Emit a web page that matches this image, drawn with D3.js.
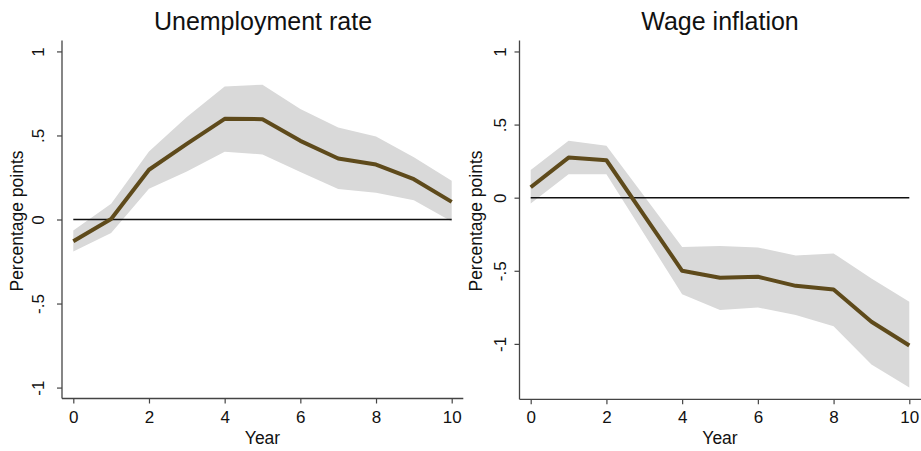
<!DOCTYPE html>
<html>
<head>
<meta charset="utf-8">
<script src="https://cdn.jsdelivr.net/npm/d3@7"></script>
<style>
  html, body { margin: 0; padding: 0; background: #fff; }
  svg { display: block; font-family: Arial, "Liberation Sans", sans-serif; }
</style>
</head>
<body>
<svg id="chart" width="921" height="451"></svg>
<script>
// Horizon in years after the shock
const years = [0, 1, 2, 3, 4, 5, 6, 7, 8, 9, 10];

// Unemployment rate response (percentage points) with confidence band
const unempEstimate = [-0.129, 0.003, 0.296, 0.45, 0.599, 0.597, 0.468, 0.363, 0.327, 0.24, 0.105];
const unempUpper    = [-0.065, 0.093, 0.405, 0.61, 0.792, 0.802, 0.657, 0.548, 0.494, 0.371, 0.23];
const unempLower    = [-0.19, -0.081, 0.183, 0.286, 0.403, 0.387, 0.282, 0.181, 0.159, 0.115, -0.012];

// Wage inflation response (percentage points) with confidence band
const wageEstimate = [0.071, 0.274, 0.256, -0.122, -0.5, -0.548, -0.541, -0.603, -0.628, -0.849, -1.011];
const wageUpper    = [0.19, 0.39, 0.356, 0.01, -0.338, -0.331, -0.34, -0.395, -0.381, -0.552, -0.712];
const wageLower    = [-0.039, 0.16, 0.16, -0.25, -0.66, -0.769, -0.751, -0.803, -0.879, -1.141, -1.299];

// Axis ticks
const xTicks = [0, 2, 4, 6, 8, 10];
const yTicks = [-1, -0.5, 0, 0.5, 1];
const yTickLabels = ["-1", "-.5", "0", ".5", "1"];

const titles = ["Unemployment rate", "Wage inflation"];

const svg = d3.select("#chart");

const panels = [
  {
    title: titles[0], est: unempEstimate, up: unempUpper, lo: unempLower,
    axisX: 62, axisRight: 463.3, top: 40.5, bottom: 398.5,
    x0: 73.3, x1: 451.7, yDomain: [-1.065, 1.065],
    titleX: 263, yLabelX: 18.5, tickLabelX: 40
  },
  {
    title: titles[1], est: wageEstimate, up: wageUpper, lo: wageLower,
    axisX: 519.5, axisRight: 921, top: 40.5, bottom: 399.3,
    x0: 530.7, x1: 909.3, yDomain: [-1.379, 1.075],
    titleX: 720, yLabelX: 477, tickLabelX: 501.5
  }
];

const lineColor = "#5e4a1b";
const bandColor = "#d9d9d9";
const axisColor = "#444";
const tickFont = 17;
const labelFont = 17.5;
const titleFont = 25;

panels.forEach(p => {
  const x = d3.scaleLinear().domain([0, 10]).range([p.x0, p.x1]);
  const y = d3.scaleLinear().domain(p.yDomain).range([p.bottom, p.top]);

  const g = svg.append("g");

  // Confidence band
  const area = d3.area()
    .x((d, i) => x(years[i]))
    .y0((d, i) => y(p.lo[i]))
    .y1((d, i) => y(p.up[i]));
  g.append("path")
    .datum(years)
    .attr("d", area)
    .attr("fill", bandColor);

  // Zero reference line
  g.append("line")
    .attr("x1", x(0)).attr("x2", x(10))
    .attr("y1", y(0)).attr("y2", y(0))
    .attr("stroke", "#111")
    .attr("stroke-width", 1.6);

  // Point estimate
  const line = d3.line()
    .x((d, i) => x(years[i]))
    .y(d => y(d));
  g.append("path")
    .datum(p.est)
    .attr("d", line)
    .attr("fill", "none")
    .attr("stroke", lineColor)
    .attr("stroke-width", 4)
    .attr("stroke-linejoin", "round");

  // Y axis
  const yAxis = d3.axisLeft(y)
    .tickValues(yTicks)
    .tickSize(5)
    .tickPadding(0)
    .tickFormat((d, i) => yTickLabels[i]);
  const ya = g.append("g")
    .attr("transform", `translate(${p.axisX},0)`)
    .call(yAxis);
  ya.select(".domain").remove();
  ya.selectAll(".tick line").attr("stroke", axisColor).attr("stroke-width", 1.2);
  ya.selectAll(".tick text")
    .attr("x", 0).attr("dy", null)
    .attr("text-anchor", "middle")
    .attr("dominant-baseline", "middle")
    .attr("transform", `translate(${p.tickLabelX - p.axisX},0) rotate(-90)`)
    .attr("font-size", tickFont)
    .attr("fill", "#111");
  g.append("line")
    .attr("x1", p.axisX).attr("x2", p.axisX)
    .attr("y1", p.top).attr("y2", p.bottom)
    .attr("stroke", axisColor).attr("stroke-width", 1.3);

  // X axis
  const xAxis = d3.axisBottom(x)
    .tickValues(xTicks)
    .tickSize(5)
    .tickPadding(7)
    .tickFormat(d3.format("d"));
  const xa = g.append("g")
    .attr("transform", `translate(0,${p.bottom})`)
    .call(xAxis);
  xa.select(".domain").remove();
  xa.selectAll(".tick line").attr("stroke", axisColor).attr("stroke-width", 1.2);
  xa.selectAll(".tick text")
    .attr("font-size", tickFont)
    .attr("fill", "#111");
  g.append("line")
    .attr("x1", p.axisX).attr("x2", p.axisRight)
    .attr("y1", p.bottom).attr("y2", p.bottom)
    .attr("stroke", axisColor).attr("stroke-width", 1.3);

  // Titles and axis labels
  g.append("text")
    .attr("x", p.titleX).attr("y", 30)
    .attr("text-anchor", "middle")
    .attr("font-size", titleFont)
    .attr("fill", "#111")
    .text(p.title);

  g.append("text")
    .attr("x", (p.x0 + p.x1) / 2).attr("y", 444)
    .attr("text-anchor", "middle")
    .attr("font-size", labelFont)
    .attr("fill", "#111")
    .text("Year");

  g.append("text")
    .attr("transform", `translate(${p.yLabelX},221) rotate(-90)`)
    .attr("text-anchor", "middle")
    .attr("dominant-baseline", "middle")
    .attr("font-size", labelFont)
    .attr("fill", "#111")
    .text("Percentage points");
});
</script>
</body>
</html>
